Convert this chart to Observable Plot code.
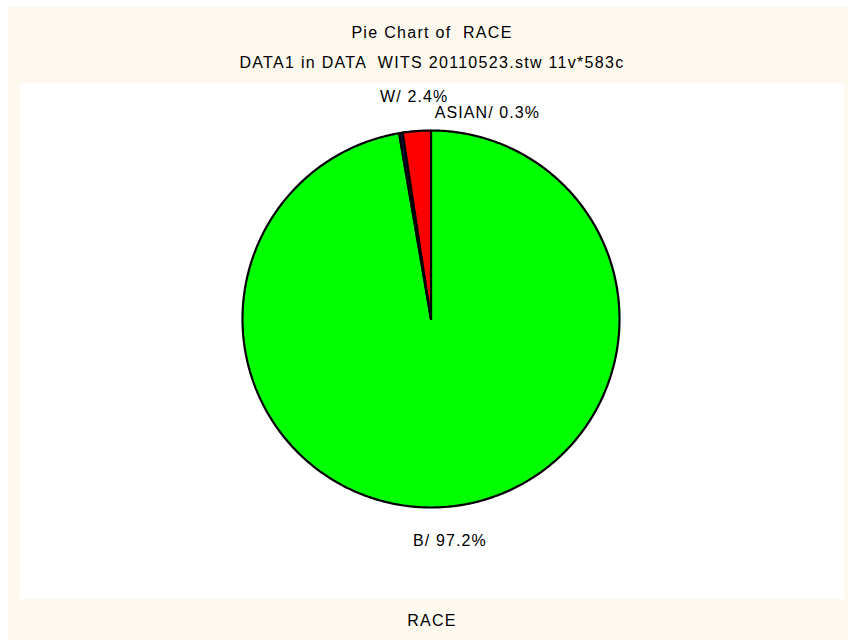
<!DOCTYPE html>
<html>
<head>
<meta charset="utf-8">
<script src="https://cdn.jsdelivr.net/npm/d3@7"></script>
<script src="https://cdn.jsdelivr.net/npm/@observablehq/plot@0.6"></script>
<style>
  html, body { margin: 0; padding: 0; background: #ffffff; }
  body { width: 848px; height: 640px; overflow: hidden; font-family: "Liberation Sans", Arial, sans-serif; }
  #wrap { position: absolute; left: 8px; top: 7px; width: 840px; height: 633px; background: #FEF9EE; }
  .t { position: absolute; left: 12px; width: 824px; text-align: center; font-size: 16px; letter-spacing: 1.3px; color: #000; white-space: pre; line-height: 18px; }
  #chart { position: absolute; left: 12px; top: 76px; width: 824px; height: 516px; background: #fff; }
</style>
</head>
<body>
<div id="wrap">
  <div class="t" id="title" style="top:17px"></div>
  <div class="t" id="subtitle" style="top:47px"></div>
  <div id="chart"></div>
  <div class="t" id="caption" style="top:605px"></div>
</div>
<script>
// ---- data ----
const titleText = "Pie Chart of  RACE";
const subtitleText = "DATA1 in DATA  WITS 20110523.stw 11v*583c";
const captionText = "RACE";
const categories = ["B", "ASIAN", "W"];
const percents = [97.2, 0.3, 2.4];
const sliceColors = ["#00FF00", "#10105A", "#FF0000"];

document.getElementById("title").textContent = titleText;
document.getElementById("subtitle").textContent = subtitleText;
document.getElementById("caption").textContent = captionText;

// ---- geometry (in radius units, clockwise from 12 o'clock) ----
const W = 824, H = 516, R = 188.5, cx = 410.5, cy = 235.5;
const total = d3.sum(percents);
let acc = 0;
const slices = categories.map((c, i) => {
  const a0 = acc / total * 2 * Math.PI;
  acc += percents[i];
  const a1 = acc / total * 2 * Math.PI;
  return {cat: c, pct: percents[i], a0, a1};
});
const polys = slices.map(s => {
  const pts = [{cat: s.cat, x: 0, y: 0}];
  const n = Math.max(2, Math.ceil((s.a1 - s.a0) / (Math.PI / 360)));
  for (let k = 0; k <= n; k++) {
    const a = s.a0 + (s.a1 - s.a0) * k / n;
    pts.push({cat: s.cat, x: Math.sin(a), y: Math.cos(a)});
  }
  pts.push({cat: s.cat, x: 0, y: 0});
  return pts;
});
const labelR = 1.183;
const labels = slices.map(s => {
  const m = (s.a0 + s.a1) / 2;
  return {cat: s.cat, text: `${s.cat}/ ${s.pct.toFixed(1)}%`, x: Math.sin(m) * labelR, y: Math.cos(m) * labelR};
});

const marks = polys.map(p => Plot.line(p, {
  x: "x", y: "y", fill: "cat", stroke: "#000", strokeWidth: 2.2, strokeLinejoin: "round", curve: "linear"
}));
marks.push(Plot.text(labels.filter(d => d.cat !== "ASIAN"), {
  x: "x", y: "y", text: "text", fontSize: 16, fill: "#000"
}));
marks.push(Plot.text(labels.filter(d => d.cat === "ASIAN"), {
  x: "x", y: "y", text: "text", fontSize: 16, fill: "#000", dx: 92, dy: 14
}));

const chart = Plot.plot({
  width: W, height: H,
  margin: 0,
  style: {background: "#fff", fontFamily: "Liberation Sans, Arial, sans-serif", letterSpacing: "1.1px"},
  x: {domain: [-cx / R, (W - cx) / R], axis: null},
  y: {domain: [-(H - cy) / R, cy / R], axis: null},
  color: {domain: categories, range: sliceColors},
  marks
});
document.getElementById("chart").appendChild(chart);
</script>
</body>
</html>
